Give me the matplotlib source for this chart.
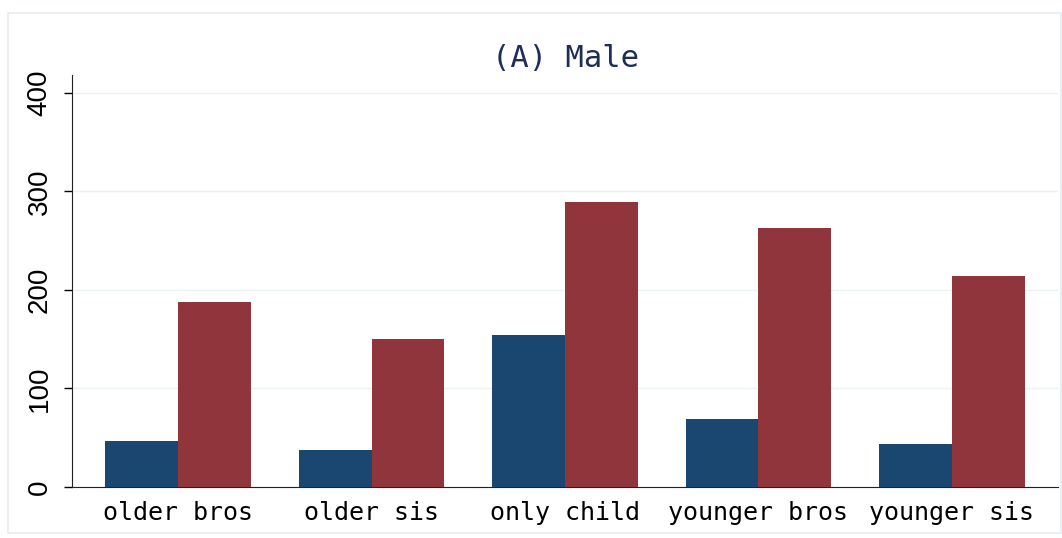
import matplotlib.pyplot as plt
import matplotlib.patches as mpatches
import numpy as np

categories = ['older bros', 'older sis', 'only child', 'younger bros', 'younger sis']
navy_vals = [47, 38, 154, 69, 44]
red_vals = [188, 150, 289, 263, 214]
yticks = [0, 100, 200, 300, 400]

navy = '#1a476f'
maroon = '#90353b'
mono = ['DejaVu Sans Mono']

fig = plt.figure(figsize=(10.62, 5.38), dpi=100)
# light outer frame
fig.patches.append(mpatches.Rectangle((8/1062, 5/538), 1053/1062, 520/538,
                                      transform=fig.transFigure, fill=False,
                                      edgecolor='#e6edf0', linewidth=1.2))
ax = fig.add_axes([72/1062, 51/538, 986/1062, 412/538])

x = np.arange(len(categories))
w = 0.375
ax.bar(x - w/2, navy_vals, w, color=navy, zorder=3)
ax.bar(x + w/2, red_vals, w, color=maroon, zorder=3)

ax.set_xlim(-0.548, 4.548)
ax.set_ylim(0, 418)
ax.set_yticks(yticks)
ax.set_yticklabels([str(v) for v in yticks], rotation=90, va='center',
                   fontsize=20, family='Liberation Sans')
ax.set_xticks(x)
ax.set_xticklabels(categories, fontsize=18, family=mono)
ax.tick_params(axis='x', length=0, pad=10)
ax.tick_params(axis='y', length=6, width=1, pad=8)
ax.grid(axis='y', color='#eaf2f3', linewidth=1, zorder=0)
for s in ['top', 'right']:
    ax.spines[s].set_visible(False)
for s in ['left', 'bottom']:
    ax.spines[s].set_color('#222222')

ax.set_title('(A) Male', fontsize=22, family=mono, color='#1e2e55', pad=6)

fig.savefig('out.png', dpi=100)
